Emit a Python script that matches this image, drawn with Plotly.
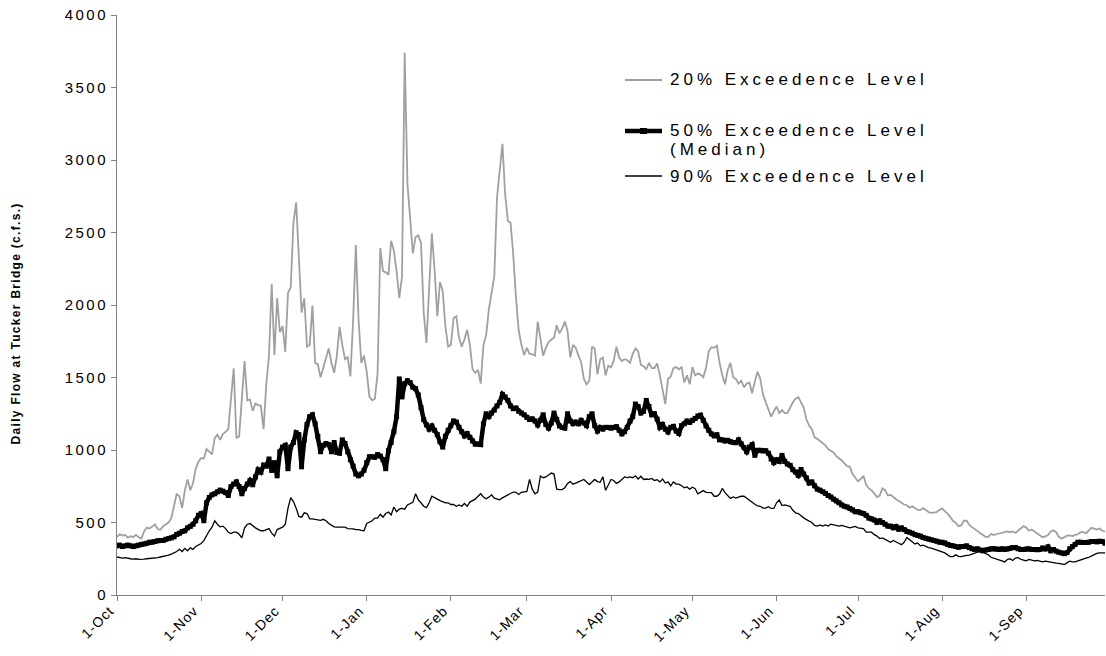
import pandas as pd
import plotly.graph_objects as go

# ---- data (daily values, 1-Oct .. 30-Sep) ----
start_date = "2001-10-01"
n_days = 365

flow_20 = [
    400, 420, 410, 414, 395, 405, 400, 415, 398, 390,
    440, 465, 458, 470, 488, 455, 450, 475, 490, 500,
    530, 610, 698, 680, 600, 723, 797, 723, 770, 870,
    920, 945, 940, 1007, 985, 970, 1082, 1106, 1070, 1110,
    1125, 1144, 1354, 1564, 1082, 1094, 1354, 1614, 1343, 1348,
    1270, 1320, 1310, 1305, 1144, 1453, 1650, 2146, 1655, 2047,
    1812, 1854, 1676, 2084, 2121, 2567, 2708, 2319, 1948, 2047,
    1713, 1725, 1997, 1601, 1590, 1502, 1565, 1626, 1700, 1601,
    1532, 1651, 1849, 1725, 1626, 1640, 1507, 1898, 2413, 1898,
    1601, 1651, 1540, 1366, 1343, 1354, 1527, 2393, 2233, 2225,
    2208, 2443, 2374, 2233, 2047, 2195, 3740, 2839, 2591, 2356,
    2468, 2480, 2430, 1948, 1738, 2096, 2493, 2245, 1923, 2158,
    2096, 1849, 1713, 1725, 1911, 1923, 1775, 1713, 1762, 1829,
    1725, 1557, 1532, 1552, 1458, 1725, 1790, 1970, 2072, 2195,
    2740, 2938, 3111, 2765, 2579, 2567, 2344, 2047, 1824, 1725,
    1655, 1705, 1663, 1660, 1651, 1886, 1775, 1651, 1705, 1745,
    1762, 1775, 1861, 1804, 1837, 1886, 1820, 1638, 1725, 1705,
    1651, 1606, 1490, 1453, 1478, 1713, 1700, 1522, 1626, 1638,
    1515, 1582, 1570, 1614, 1713, 1638, 1614, 1626, 1619, 1601,
    1663, 1700, 1681, 1589, 1577, 1557, 1601, 1565, 1565, 1596,
    1515, 1428, 1317, 1490, 1507, 1565, 1572, 1557, 1572, 1465,
    1515, 1453, 1572, 1515, 1527, 1520, 1502, 1565, 1681, 1708,
    1705, 1720, 1601, 1515, 1453, 1552, 1601, 1502, 1490, 1458,
    1478, 1433, 1458, 1465, 1391, 1473, 1540, 1490, 1384, 1329,
    1275, 1230, 1267, 1300, 1255, 1275, 1255, 1255, 1292, 1329,
    1354, 1366, 1329, 1292, 1210, 1168, 1144, 1087, 1077, 1062,
    1052, 1032, 1007, 995, 983, 958, 946, 928, 908, 889,
    884, 834, 809, 785, 800, 822, 760, 735, 723, 698,
    676, 686, 735, 723, 686, 691, 673, 661, 649, 636,
    624, 619, 602, 612, 599, 587, 587, 599, 587, 572,
    567, 567, 572, 587, 597, 577, 562, 537, 512, 498,
    475, 480, 512, 512, 483, 468, 453, 438, 426, 414,
    401, 401, 421, 414, 419, 423, 431, 436, 438, 433,
    438, 428, 443, 460, 475, 465, 443, 451, 438, 428,
    414, 399, 404, 414, 438, 446, 433, 401, 389, 401,
    409, 411, 406, 414, 419, 433, 433, 426, 443, 463,
    458, 451, 458, 443, 436,
]

flow_50 = [
    339, 344, 334, 339, 344, 339, 334, 339, 344, 349,
    352, 357, 364, 364, 369, 374, 376, 376, 384, 389,
    394, 401, 418, 426, 438, 443, 463, 473, 488, 512,
    550, 562, 512, 636, 673, 691, 698, 711, 723, 716,
    706, 686, 748, 765, 780, 748, 698, 735, 765, 790,
    760, 814, 864, 847, 896, 889, 938, 859, 913, 822,
    988, 1020, 1032, 871, 1020, 1052, 1119, 1106, 884, 1069,
    1176, 1230, 1243, 1181, 1094, 988, 1032, 1045, 1037, 988,
    1052, 983, 978, 1070, 1045, 988, 933, 889, 834, 822,
    834, 860, 913, 953, 953, 950, 968, 958, 933, 871,
    995, 1052, 1126, 1230, 1490, 1366, 1458, 1478, 1465, 1433,
    1423, 1379, 1292, 1210, 1173, 1144, 1166, 1136, 1106, 1057,
    1020, 1094, 1136, 1168, 1200, 1193, 1156, 1126, 1097, 1114,
    1087, 1062, 1040, 1042, 1037, 1181, 1250, 1230, 1255, 1275,
    1304, 1329, 1384, 1366, 1342, 1304, 1285, 1290, 1267, 1255,
    1243, 1225, 1210, 1215, 1200, 1173, 1205, 1243, 1176, 1151,
    1186, 1255, 1210, 1166, 1156, 1151, 1250, 1200, 1181, 1193,
    1181, 1205, 1186, 1168, 1230, 1250, 1168, 1131, 1156, 1144,
    1156, 1156, 1150, 1156, 1161, 1136, 1111, 1126, 1156, 1200,
    1230, 1317, 1300, 1255, 1267, 1342, 1300, 1243, 1250, 1213,
    1156, 1176, 1144, 1124, 1156, 1163, 1131, 1114, 1168, 1181,
    1200, 1190, 1205, 1218, 1235, 1240, 1205, 1166, 1136, 1111,
    1097, 1106, 1070, 1070, 1062, 1067, 1057, 1052, 1050, 1070,
    1042, 1017, 988, 1020, 1037, 963, 998, 998, 993, 995,
    978, 938, 913, 933, 921, 963, 921, 903, 894, 864,
    849, 824, 866, 834, 807, 772, 780, 753, 730, 723,
    713, 701, 686, 676, 661, 649, 636, 621, 612, 607,
    597, 587, 574, 574, 567, 562, 550, 530, 525, 517,
    500, 512, 500, 488, 475, 475, 463, 473, 453, 463,
    451, 438, 433, 426, 416, 411, 406, 396, 391, 386,
    381, 376, 371, 364, 364, 359, 349, 342, 339, 334,
    329, 334, 334, 339, 327, 319, 314, 319, 310, 305,
    310, 314, 319, 319, 317, 314, 319, 314, 317, 322,
    327, 327, 319, 314, 314, 317, 319, 314, 314, 312,
    314, 324, 317, 332, 305, 314, 302, 295, 290, 285,
    292, 319, 334, 349, 364, 364, 362, 362, 364, 369,
    369, 366, 371, 369, 357,
]

flow_90 = [
    262, 258, 255, 258, 252, 250, 248, 250, 246, 245,
    248, 250, 252, 255, 252, 258, 262, 265, 270, 275,
    282, 290, 300, 315, 300, 322, 305, 325, 315, 335,
    345, 355, 375, 414, 443, 468, 512, 488, 470, 475,
    458, 433, 424, 433, 433, 419, 394, 463, 488, 493,
    475, 463, 453, 443, 443, 451, 458, 426, 406, 451,
    458, 468, 488, 599, 671, 644, 599, 542, 537, 567,
    562, 525, 525, 520, 515, 515, 522, 512, 493, 480,
    470, 468, 468, 463, 468, 458, 458, 456, 451, 451,
    445, 443, 493, 500, 512, 530, 530, 557, 537, 562,
    572, 552, 607, 574, 592, 597, 592, 621, 631, 639,
    698, 656, 636, 612, 602, 636, 681, 673, 661, 651,
    641, 636, 636, 624, 624, 612, 621, 612, 631, 612,
    641, 651, 661, 681, 698, 676, 664, 675, 691, 668,
    660, 656, 670, 680, 690, 698, 710, 708, 693, 708,
    710, 715, 797, 730, 698, 710, 821, 809, 814, 826,
    841, 834, 730, 727, 727, 740, 769, 782, 764, 772,
    782, 789, 797, 779, 762, 779, 797, 782, 777, 816,
    722, 759, 797, 790, 770, 780, 797, 814, 809, 814,
    809, 822, 800, 819, 797, 800, 797, 804, 790, 795,
    780, 800, 772, 780, 753, 780, 765, 765, 753, 740,
    745, 730, 743, 733, 698, 711, 720, 708, 706, 706,
    681, 681, 696, 735, 706, 686, 666, 676, 668, 675,
    681, 681, 666, 654, 636, 626, 614, 612, 599, 599,
    609, 597, 597, 636, 656, 617, 621, 614, 612, 584,
    567, 562, 545, 532, 520, 508, 500, 480, 475, 483,
    475, 483, 475, 488, 485, 480, 475, 480, 475, 470,
    463, 468, 473, 463, 458, 458, 433, 433, 433, 416,
    406, 389, 394, 384, 374, 364, 376, 364, 357, 347,
    364, 396, 381, 366, 352, 359, 339, 344, 334, 327,
    324, 317, 309, 302, 297, 290, 277, 265, 265, 277,
    267, 265, 270, 270, 275, 282, 290, 295, 302, 295,
    287, 277, 260, 255, 250, 243, 235, 228, 245, 250,
    238, 255, 258, 245, 240, 235, 245, 240, 235, 238,
    233, 228, 233, 228, 228, 223, 220, 220, 215, 210,
    220, 233, 228, 228, 235, 243, 250, 255, 260, 270,
    282, 287, 290, 290, 290,
]

tick_dates = ["2001-10-01", "2001-11-01", "2001-12-01", "2002-01-01",
              "2002-02-01", "2002-03-01", "2002-04-01", "2002-05-01",
              "2002-06-01", "2002-07-01", "2002-08-01", "2002-09-01"]
tick_labels = ["1-Oct", "1-Nov", "1-Dec", "1-Jan", "1-Feb", "1-Mar",
               "1-Apr", "1-May", "1-Jun", "1-Jul", "1-Aug", "1-Sep"]

series_names = ["20% Exceedence Level", "50% Exceedence Level (Median)",
                "90% Exceedence Level"]
y_title = "Daily Flow at Tucker Bridge (c.f.s.)"

dates = pd.date_range(start_date, periods=n_days, freq="D")

FONT = "Liberation Sans, Arial, sans-serif"
GRAY = "#a0a0a0"
AXIS = "#808080"

fig = go.Figure()
fig.add_trace(go.Scatter(x=dates, y=flow_20, mode="lines", name=series_names[0],
                         line=dict(color=GRAY, width=1.8), showlegend=False))
fig.add_trace(go.Scatter(x=dates, y=flow_90, mode="lines", name=series_names[2],
                         line=dict(color="black", width=1.3), showlegend=False))
fig.add_trace(go.Scatter(x=dates, y=flow_50, mode="lines+markers", name=series_names[1],
                         line=dict(color="black", width=4.5),
                         marker=dict(symbol="square", size=5, color="black"),
                         showlegend=False))

# plot-area geometry helpers (pixels -> paper)
L, R, T, B, W, H = 117, 1, 15, 61, 1106, 656
pw, ph = W - L - R, H - T - B
def px(x):
    return (x - L) / pw
def py(y):
    return (H - B - y) / ph

# manual legend (positioned like the original)
leg_items = [
    (80, GRAY, 1.8, "20% Exceedence Level"),
    (131, "black", 4.5, "50% Exceedence Level"),
    (176, "black", 1.3, "90% Exceedence Level"),
]
shapes = []
annotations = [dict(text="<b>" + y_title + "</b>", textangle=-90, xref="paper", yref="paper",
                    x=px(16), y=py(324), xanchor="center", yanchor="middle", showarrow=False,
                    font=dict(family=FONT, size=12, color="black"))]
for yy, col, wd, txt in leg_items:
    shapes.append(dict(type="line", xref="paper", yref="paper", x0=px(625), x1=px(662),
                       y0=py(yy), y1=py(yy), line=dict(color=col, width=wd)))
    annotations.append(dict(text=txt, xref="paper", yref="paper", x=px(668), y=py(yy),
                            xanchor="left", yanchor="middle", align="left", showarrow=False,
                            font=dict(family=FONT, size=17, color="black")))
shapes.append(dict(type="rect", xref="paper", yref="paper", x0=px(640), x1=px(647),
                   y0=py(134), y1=py(128), fillcolor="black", line=dict(width=0)))
annotations.append(dict(text="(Median)", xref="paper", yref="paper", x=px(668), y=py(149),
                        xanchor="left", yanchor="middle", align="left", showarrow=False,
                        font=dict(family=FONT, size=17, color="black")))

fig.update_layout(
    width=W, height=H,
    margin=dict(l=L, r=R, t=T, b=B, autoexpand=False),
    paper_bgcolor="white", plot_bgcolor="white",
    font=dict(family=FONT, color="black"),
    showlegend=False,
    shapes=shapes, annotations=annotations,
    xaxis=dict(type="date", range=["2001-10-01", "2002-09-30"],
               tickmode="array", tickvals=tick_dates, ticktext=tick_labels,
               tickangle=-45, ticks="outside", ticklen=5, tickcolor=AXIS,
               ticklabelstandoff=-4, ticklabelshift=-7,
               showline=True, linecolor=AXIS, linewidth=1, showgrid=False,
               zeroline=False, tickfont=dict(family=FONT, size=14, color="black")),
    yaxis=dict(range=[0, 4000], tick0=0, dtick=500, ticks="outside", ticklen=5,
               tickcolor=AXIS, showline=True, linecolor=AXIS, linewidth=1,
               showgrid=False, zeroline=False,
               tickfont=dict(family=FONT, size=15, color="black")),
)

css = ("var s=document.createElement('style');"
       "s.textContent='html,body{margin:0;padding:0;overflow:hidden}"
       ".ytick text{letter-spacing:2.5px}.xtick text{letter-spacing:1px}"
       ".annotation[data-index=\"0\"] text{letter-spacing:1.3px}"
       ".annotation[data-index=\"1\"] text,.annotation[data-index=\"2\"] text,"
       ".annotation[data-index=\"3\"] text,.annotation[data-index=\"4\"] text{letter-spacing:4px}';"
       "document.head.appendChild(s);")

fig.write_html("out.html", post_script=css, config={"displayModeBar": False})
